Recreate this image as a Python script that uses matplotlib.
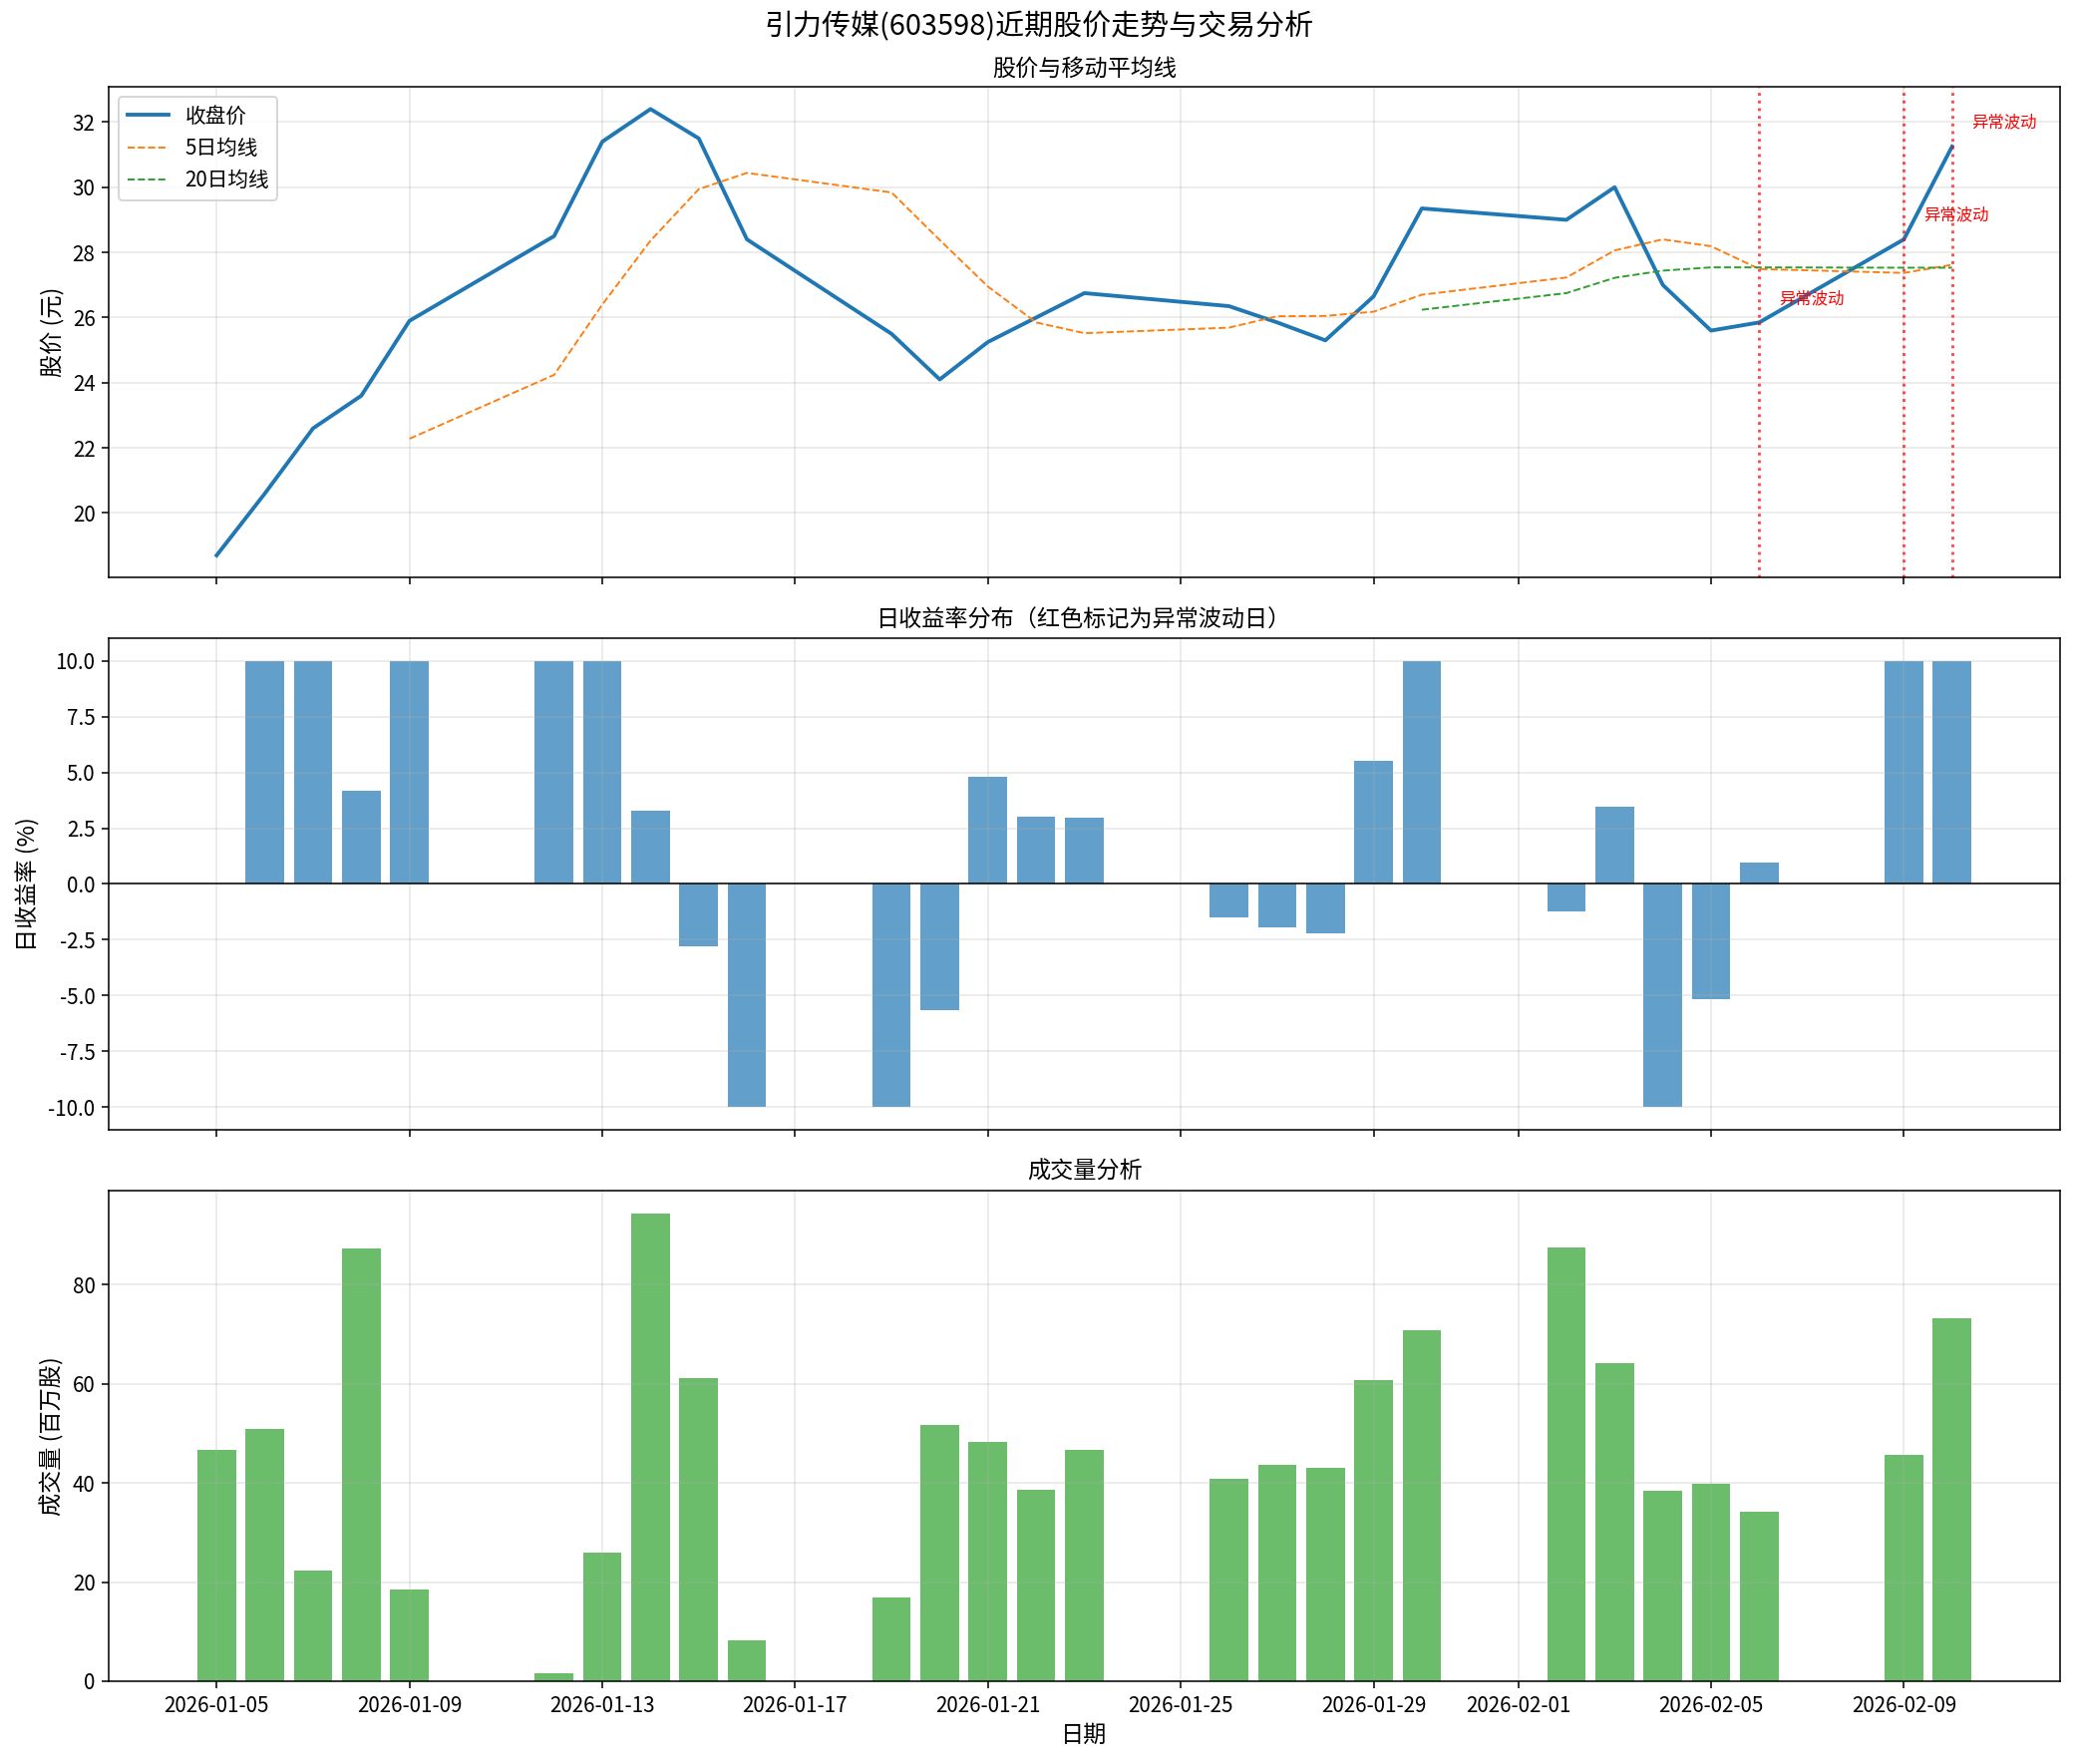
import numpy as np
import pandas as pd
import matplotlib
matplotlib.use("Agg")
import matplotlib.pyplot as plt

plt.rcParams["font.family"] = ["Noto Sans CJK SC", "DejaVu Sans"]
plt.rcParams["axes.unicode_minus"] = False
plt.rcParams["xtick.labelsize"] = 10.7
plt.rcParams["ytick.labelsize"] = 10.7

nan = np.nan

dates = pd.to_datetime([
    "2026-01-05", "2026-01-06", "2026-01-07", "2026-01-08", "2026-01-09",
    "2026-01-12", "2026-01-13", "2026-01-14", "2026-01-15", "2026-01-16",
    "2026-01-19", "2026-01-20", "2026-01-21", "2026-01-22", "2026-01-23",
    "2026-01-26", "2026-01-27", "2026-01-28", "2026-01-29", "2026-01-30",
    "2026-02-02", "2026-02-03", "2026-02-04", "2026-02-05", "2026-02-06",
    "2026-02-09", "2026-02-10",
])

close = [18.70, 20.60, 22.60, 23.60, 25.90,
         28.50, 31.40, 32.40, 31.50, 28.40,
         25.50, 24.10, 25.25, 26.00, 26.75,
         26.35, 25.85, 25.30, 26.65, 29.35,
         29.00, 30.00, 27.00, 25.60, 25.85,
         28.40, 31.25]

ma5 = [nan, nan, nan, nan, 22.28,
       24.24, 26.40, 28.36, 29.94, 30.44,
       29.84, 28.38, 26.95, 25.85, 25.52,
       25.69, 26.04, 26.05, 26.18, 26.70,
       27.23, 28.06, 28.40, 28.19, 27.49,
       27.37, 27.62]

ma20 = [nan] * 19 + [26.24, 26.75, 27.22, 27.44, 27.54, 27.54, 27.53, 27.53]

returns = [nan, 10.0, 10.0, 4.17, 10.0,
           10.0, 10.0, 3.28, -2.78, -10.0,
           -10.0, -5.64, 4.79, 3.0, 2.95,
           -1.51, -1.96, -2.19, 5.52, 10.0,
           -1.25, 3.45, -10.0, -5.15, 0.94,
           10.0, 10.0]

volume = [46.7, 50.8, 22.3, 87.3, 18.5,
          1.6, 26.0, 94.3, 61.2, 8.2,
          16.9, 51.6, 48.2, 38.7, 46.7,
          40.8, 43.7, 43.1, 60.7, 70.7,
          87.5, 64.1, 38.5, 39.9, 34.2,
          45.7, 73.3]

anomaly_dates = pd.to_datetime(["2026-02-06", "2026-02-09", "2026-02-10"])

fig, (ax1, ax2, ax3) = plt.subplots(3, 1, figsize=(2083 / 139, 1769 / 139), sharex=True)
fig.suptitle("引力传媒(603598)近期股价走势与交易分析", fontsize=15, y=1 - 27 / 1769, va="center")

# price + moving averages
ax1.plot(dates, close, label="收盘价", linewidth=2)
ax1.plot(dates, ma5, "--", label="5日均线", linewidth=1)
ax1.plot(dates, ma20, "--", label="20日均线", linewidth=1)
for d in anomaly_dates:
    ax1.axvline(d, color="red", linestyle=":", alpha=0.7, linewidth=1.5)
    price = close[list(dates).index(d)]
    ax1.annotate("异常波动", xy=(d, price), xytext=(10, 10),
                 textcoords="offset points", fontsize=8.5, color="red")
ax1.set_title("股价与移动平均线", fontsize=12)
ax1.set_ylabel("股价 (元)", fontsize=12)
ax1.legend(loc="upper left", fontsize=10.7)
ax1.grid(True, alpha=0.3)

# daily returns
ax2.bar(dates, returns, color="#1f77b4", alpha=0.7)
ax2.axhline(0, color="black", linewidth=0.8)
ax2.set_title("日收益率分布（红色标记为异常波动日）", fontsize=12)
ax2.set_ylabel("日收益率 (%)", fontsize=12)
ax2.grid(True, alpha=0.3)

# volume
ax3.bar(dates, volume, color="#2ca02c", alpha=0.7)
ax3.set_title("成交量分析", fontsize=12)
ax3.set_ylabel("成交量 (百万股)", fontsize=12)
ax3.set_xlabel("日期", fontsize=12)
ax3.grid(True, alpha=0.3)

fig.subplots_adjust(left=109 / 2083, right=2066 / 2083,
                    top=1 - 87 / 1769, bottom=1 - 1686 / 1769, hspace=0.124)
fig.savefig("out.png", dpi=139)
